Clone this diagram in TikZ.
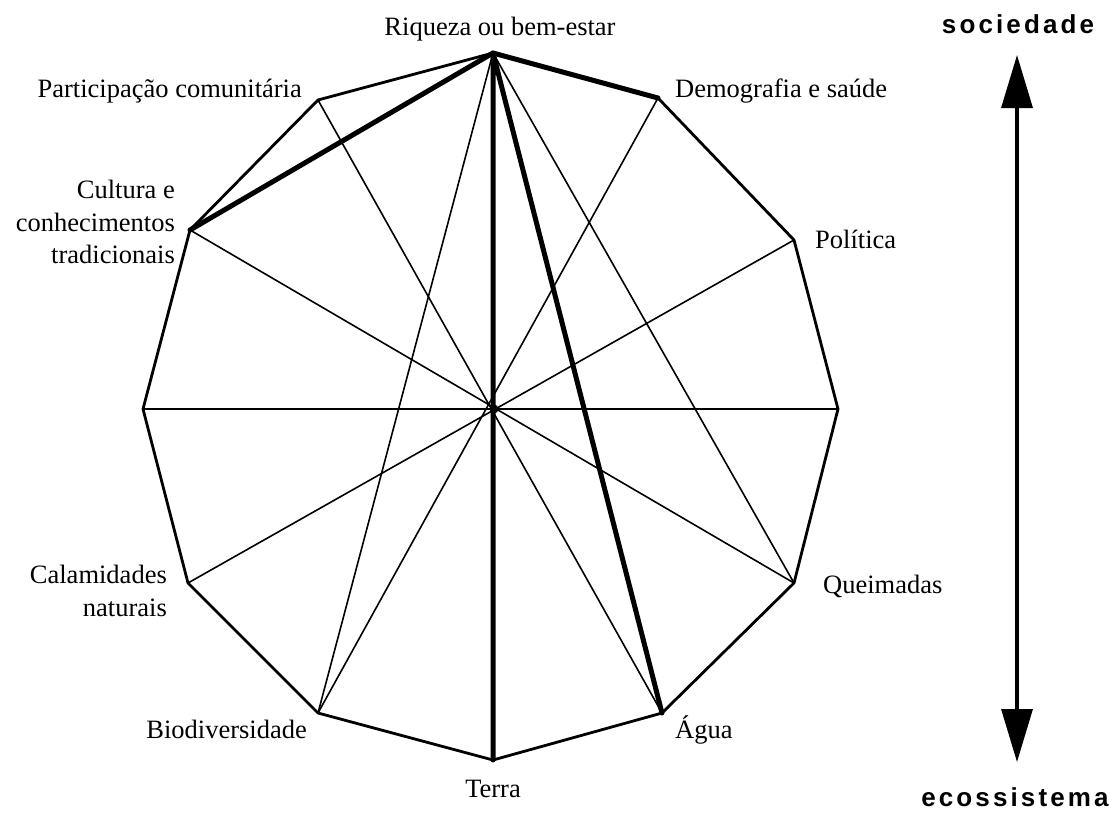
\documentclass[tikz,border=0pt]{standalone}
\usepackage{fontspec}
\setmainfont{Liberation Serif}
\newfontfamily\axisfont[LetterSpace=12]{Liberation Sans Bold}
\usetikzlibrary{arrows.meta}
\tikzset{
  lbl/.style={font=\fontsize{26.5}{32.5}\selectfont, inner sep=0pt},
  axlbl/.style={font=\axisfont\fontsize{26}{30}\selectfont, inner sep=0pt},
  rim/.style={line width=2.8pt},
  chord/.style={line width=1.6pt},
  heavy/.style={line width=5pt},
  every picture/.style={line cap=round, line join=round}
}

\begin{document}
\begin{tikzpicture}[x=1pt, y=-1pt]
  \useasboundingbox (0,0) rectangle (1110,817);
  % vertices of the polygon
  \coordinate (ri) at (493,53);
  \coordinate (de) at (658,98);
  \coordinate (po) at (794,240);
  \coordinate (e) at (838,409);
  \coordinate (qu) at (794,583);
  \coordinate (ag) at (662,713);
  \coordinate (te) at (493,760);
  \coordinate (bi) at (318,713);
  \coordinate (ca) at (188,583);
  \coordinate (w) at (143,409);
  \coordinate (cu) at (190,230);
  \coordinate (pa) at (318,100);
  \coordinate (c) at (494,409);

  \draw[chord] (ri)--(bi);
  \draw[chord] (ri)--(qu);
  \draw[chord] (pa)--(ag);
  \draw[chord] (de)--(bi);
  \draw[chord] (cu)--(qu);
  \draw[chord] (po)--(ca);
  \draw[chord] (w)--(e);

  \draw[rim] (ri)--(pa)--(cu)--(w)--(ca)--(bi)--(te)--(ag)--(qu)--(e)--(po)--(de);
  \draw[heavy] (cu)--(ri)--(de);
  \draw[heavy] (te)--(ri)--(ag);
  \fill (c) circle (4.5);

  % labels
  \node[lbl, anchor=base] (ri-l) at (500,35) {Riqueza ou bem-estar};
  \node[lbl, anchor=base west] (de-l) at (675,97) {Demografia e saúde};
  \node[lbl, anchor=base west] (po-l) at (815,248) {Política};
  \node[lbl, anchor=base west] (qu-l) at (823,593) {Queimadas};
  \node[lbl, anchor=base west] (ag-l) at (675,738) {Água};
  \node[lbl, anchor=base] (te-l) at (493,797) {Terra};
  \node[lbl, anchor=base east] (bi-l) at (307,738) {Biodiversidade};
  \node[lbl, anchor=north east, align=right] (ca-l) at (167,565) {Calamidades\\naturais};
  \node[lbl, anchor=north east, align=right] (cu-l) at (175,180) {Cultura e\\conhecimentos\\tradicionais};
  \node[lbl, anchor=base east] (pa-l) at (302,97) {Participação comunitária};

  % axis on the right
  \node[axlbl, anchor=base] (soc) at (1018,33) {sociedade};
  \node[axlbl, anchor=base] (eco) at (1015,806) {ecossistema};
  \coordinate (soc-tip) at (1017,55);
  \coordinate (eco-tip) at (1017,762);
  \draw[line width=3.3pt, line cap=butt, {Triangle[length=53pt,width=31pt]}-{Triangle[length=53pt,width=31pt]}] (soc-tip)--(eco-tip);
\end{tikzpicture}
\end{document}
